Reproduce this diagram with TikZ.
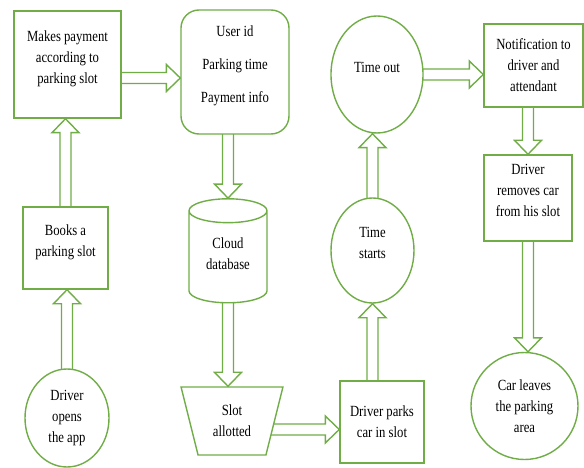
\documentclass[tikz,border=0pt]{standalone}
\usepackage{fontspec}
\setmainfont{Liberation Serif}[FakeStretch=0.82]
\usetikzlibrary{shapes.geometric,backgrounds,calc}
\definecolor{grn}{HTML}{70AD47}
\newcommand\hollowarrow[2]{%
  \draw[flow] let \p1=(#1), \p2=(#2), \n1={veclen(\x2-\x1,\y2-\y1)},
      \n2={(\x2-\x1)/\n1}, \n3={(\y2-\y1)/\n1} in
    ({\x1-(\n3)*5.5pt},{\y1+(\n2)*5.5pt})
    -- ({\x2-(\n2)*14pt-(\n3)*5.5pt},{\y2-(\n3)*14pt+(\n2)*5.5pt})
    -- ({\x2-(\n2)*14pt-(\n3)*13.5pt},{\y2-(\n3)*14pt+(\n2)*13.5pt})
    -- (\p2)
    -- ({\x2-(\n2)*14pt+(\n3)*13.5pt},{\y2-(\n3)*14pt-(\n2)*13.5pt})
    -- ({\x2-(\n2)*14pt+(\n3)*5.5pt},{\y2-(\n3)*14pt-(\n2)*5.5pt})
    -- ({\x1+(\n3)*5.5pt},{\y1-(\n2)*5.5pt}) -- cycle;}
\begin{document}
\begin{tikzpicture}[x=1pt,y=-1pt,
    every node/.style={draw=grn, line width=1.4pt, fill=white, align=center,
      inner sep=2pt, font=\fontsize{15.5}{21}\selectfont},
    procbox/.style={rectangle},
    flow/.style={draw=grn, line width=1.4pt, fill=white}]
  \useasboundingbox (0,0) rectangle (584,468);

  \path (67.5,64.5) node[procbox, minimum width=107pt, minimum height=107pt] (pay)
    {Makes payment\\according to\\parking slot\\[-6pt]};
  \path (235,72) node[procbox, rounded corners=18pt, minimum width=108pt, minimum height=124pt] (info)
    {User id\\[12pt]Parking time\\[12pt]Payment info\\[-6pt]};
  \path (377,74.5) node[ellipse, minimum width=92pt, minimum height=117pt] (tout) {Time out\\[-6pt]};
  \path (533.5,65.5) node[procbox, minimum width=99pt, minimum height=83pt] (note)
    {Notification to\\driver and\\attendant};
  \path (65.5,248) node[procbox, minimum width=85pt, minimum height=82pt] (book)
    {Books a\\parking slot\\[-6pt]};
  \path (228,259) node[cylinder, shape border rotate=90, aspect=0.5,
    minimum width=78pt, minimum height=104pt] (cloud) {Cloud\\database\\[-10pt]};
  \path (528,198) node[procbox, minimum width=88pt, minimum height=86pt] (remove)
    {Driver\\removes car\\from his slot\\[-6pt]};
  \path (372.5,250.5) node[ellipse, minimum width=83pt, minimum height=105pt] (tstart)
    {Time\\starts\\[-6pt]};
  \path (67,418) node[ellipse, minimum width=84pt, minimum height=98pt] (open)
    {Driver\\opens\\the app};
  \path (232,421) node[trapezium, shape border rotate=180, trapezium stretches=true,
    trapezium angle=73.6, minimum width=102pt, minimum height=68pt] (slot) {Slot\\allotted};
  \path (382,422) node[procbox, minimum width=84pt, minimum height=82pt] (park)
    {Driver parks\\car in slot};
  \path (524.5,406) node[circle, minimum size=107pt] (leave)
    {Car leaves\\the parking\\area};

  \coordinate (pp) at ([yshift=-13.5pt]pay.center);
  \coordinate (sp) at ([yshift=-7.5pt]park.west);

  \begin{pgfonlayer}{background}
    \hollowarrow{open.center}{open.center |- book.south}
    \hollowarrow{book.center}{book.center |- pay.south}
    \hollowarrow{pp}{pp -| info.west}
    \hollowarrow{cloud.center |- info.center}{cloud.north}
    \hollowarrow{cloud.center}{cloud.center |- slot.north}
    \hollowarrow{sp -| slot.center}{sp}
    \hollowarrow{tstart.center |- park.center}{tstart.south}
    \hollowarrow{tstart.center}{tstart.center |- tout.south}
    \hollowarrow{tout.center}{tout.center -| note.west}
    \hollowarrow{remove.center |- note.center}{remove.north}
    \hollowarrow{remove.center}{remove.center |- leave.north}
  \end{pgfonlayer}
\end{tikzpicture}
\end{document}
